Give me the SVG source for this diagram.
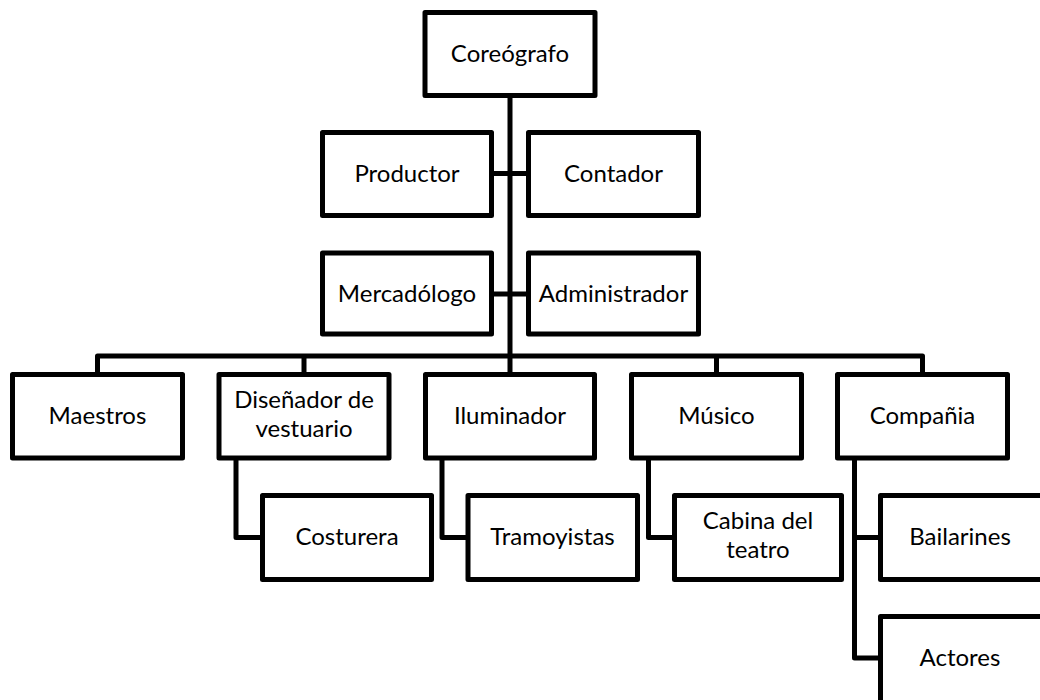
<svg xmlns="http://www.w3.org/2000/svg" width="1040" height="700" viewBox="0 0 1040 700">
<style>
.box{fill:#fff;stroke:#000;stroke-width:5;stroke-linejoin:round}
.ln{fill:none;stroke:#000;stroke-width:5;stroke-linejoin:round;stroke-linecap:butt}
text{font-family:Lato,"Open Sans","Liberation Sans",sans-serif;font-size:24px;fill:#000;text-anchor:middle}
</style>
<rect width="1040" height="700" fill="#fff"/>
<g id="connectors">
<path class="ln" d="M510 95.5V374.5"/>
<path class="ln" d="M491.5 173.5H528.5M491.5 294H528.5"/>
<path class="ln" d="M97.5 374.5V356H922.5V374.5M304 356V374.5M716.5 356V374.5"/>
<path class="ln" d="M236 458V537.5H262.5"/>
<path class="ln" d="M442 458V537.5H468"/>
<path class="ln" d="M648.5 458V537.5H674.5"/>
<path class="ln" d="M854.5 458V658H880.5M854.5 537.5H880.5"/>
</g>
<g id="n-coreografo"><rect class="box" x="425" y="12.5" width="170" height="83"/><text x="510" y="62">Coreógrafo</text></g>
<g id="n-productor"><rect class="box" x="322.5" y="132.5" width="169" height="83"/><text x="407" y="182">Productor</text></g>
<g id="n-contador"><rect class="box" x="528.5" y="132.5" width="170" height="83"/><text x="613.5" y="182">Contador</text></g>
<g id="n-mercadologo"><rect class="box" x="322.5" y="253" width="169" height="81"/><text x="407" y="302">Mercadólogo</text></g>
<g id="n-administrador"><rect class="box" x="528.5" y="253" width="170" height="81"/><text x="613.5" y="302">Administrador</text></g>
<g id="n-maestros"><rect class="box" x="12.5" y="374.5" width="170" height="83.5"/><text x="97.5" y="424">Maestros</text></g>
<g id="n-disenador"><rect class="box" x="219" y="374.5" width="170" height="83.5"/><text x="304" y="408">Diseñador de</text><text x="304" y="437">vestuario</text></g>
<g id="n-iluminador"><rect class="box" x="425.5" y="374.5" width="169" height="83.5"/><text x="510" y="424">Iluminador</text></g>
<g id="n-musico"><rect class="box" x="631.5" y="374.5" width="170" height="83.5"/><text x="716.5" y="424">Músico</text></g>
<g id="n-compania"><rect class="box" x="837.5" y="374.5" width="170" height="83.5"/><text x="922.5" y="424">Compañia</text></g>
<g id="n-costurera"><rect class="box" x="262.5" y="495.5" width="169" height="84"/><text x="347" y="545">Costurera</text></g>
<g id="n-tramoyistas"><rect class="box" x="468" y="495.5" width="169.5" height="84"/><text x="552.5" y="545">Tramoyistas</text></g>
<g id="n-cabina"><rect class="box" x="674.5" y="495.5" width="167" height="84"/><text x="758" y="529">Cabina del</text><text x="758" y="558">teatro</text></g>
<g id="n-bailarines"><rect class="box" x="880.5" y="495.5" width="170" height="84"/><text x="960" y="545">Bailarines</text></g>
<g id="n-actores"><rect class="box" x="880.5" y="616.5" width="170" height="90"/><text x="960" y="666">Actores</text></g>
</svg>
